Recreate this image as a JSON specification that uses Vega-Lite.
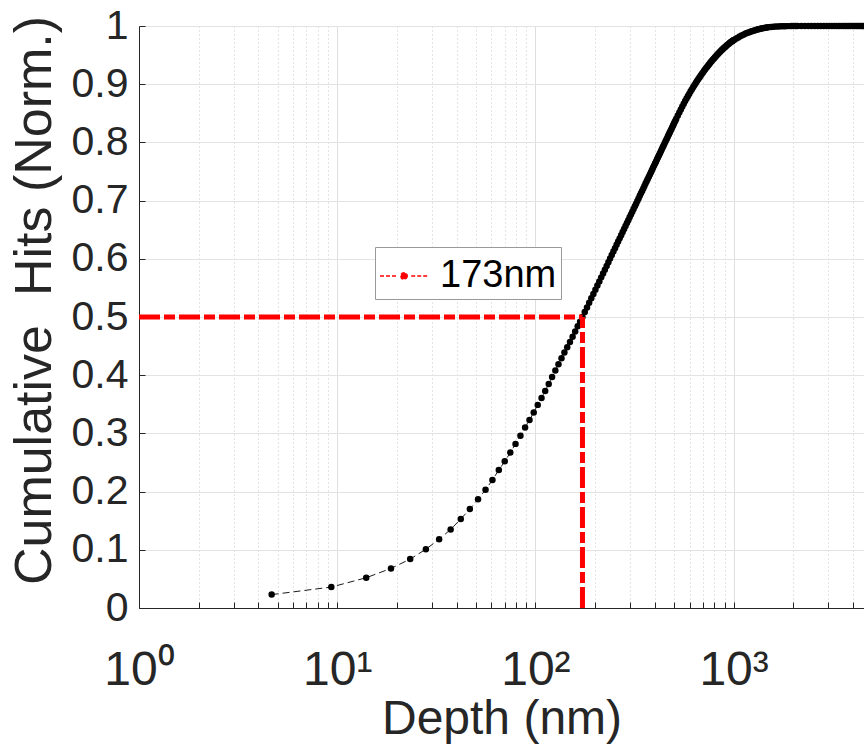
{
  "$schema": "https://vega.github.io/schema/vega-lite/v6.json",
  "width": 725,
  "height": 582,
  "autosize": {"type": "none"},
  "padding": {"left": 139, "top": 26, "right": 0, "bottom": 144},
  "background": "white",
  "config": {
    "view": {"stroke": null},
    "font": "Liberation Sans",
    "axis": {"labelFont": "Liberation Sans", "titleFont": "Liberation Sans", "labelColor": "#262626", "titleColor": "#262626", "titleFontWeight": "normal", "domainColor": "#262626", "tickColor": "#262626"}
  },
  "datasets": {
    "cdf": [
      {"d":4.67,"c":0.023},{"d":9.34,"c":0.036},{"d":14.01,"c":0.052},{"d":18.68,"c":0.068},{"d":23.35,"c":0.084},{"d":28.02,"c":0.101},{"d":32.69,"c":0.118},{"d":37.36,"c":0.135},{"d":42.03,"c":0.153},{"d":46.7,"c":0.170},
      {"d":51.37,"c":0.187},{"d":56.04,"c":0.203},{"d":60.71,"c":0.220},{"d":65.38,"c":0.237},{"d":70.05,"c":0.252},{"d":74.72,"c":0.267},{"d":79.39,"c":0.282},{"d":84.06,"c":0.296},{"d":88.73,"c":0.310},{"d":93.4,"c":0.323},
      {"d":98.07,"c":0.336},{"d":102.74,"c":0.349},{"d":107.41,"c":0.361},{"d":112.08,"c":0.373},{"d":116.75,"c":0.385},{"d":121.42,"c":0.397},{"d":126.09,"c":0.408},{"d":130.76,"c":0.419},{"d":135.43,"c":0.429},{"d":140.1,"c":0.439},
      {"d":144.77,"c":0.448},{"d":149.44,"c":0.457},{"d":154.11,"c":0.466},{"d":158.78,"c":0.475},{"d":163.45,"c":0.484},{"d":168.12,"c":0.492},{"d":172.79,"c":0.500},
      {"d":177.46,"c":0.5084},{"d":182.13,"c":0.5165},{"d":186.8,"c":0.5244},{"d":191.47,"c":0.5321},{"d":196.14,"c":0.5396},{"d":200.81,"c":0.5470},{"d":205.48,"c":0.5542},{"d":210.15,"c":0.5612},{"d":214.82,"c":0.5681},{"d":219.49,"c":0.5748},
      {"d":224.16,"c":0.5814},{"d":228.83,"c":0.5878},{"d":233.5,"c":0.5942},{"d":238.17,"c":0.6004},{"d":242.84,"c":0.6064},{"d":247.51,"c":0.6124},{"d":252.18,"c":0.6182},{"d":256.85,"c":0.6240},{"d":261.52,"c":0.6296},{"d":266.19,"c":0.6351},
      {"d":270.86,"c":0.6405},{"d":275.53,"c":0.6459},{"d":280.2,"c":0.6512},{"d":284.87,"c":0.6563},{"d":289.54,"c":0.6614},{"d":294.21,"c":0.6664},{"d":298.88,"c":0.6714},{"d":303.55,"c":0.6762},{"d":308.22,"c":0.6809},{"d":312.89,"c":0.6857},
      {"d":317.56,"c":0.6903},{"d":322.23,"c":0.6948},{"d":326.9,"c":0.6994},{"d":331.57,"c":0.7038},{"d":336.24,"c":0.7082},{"d":340.91,"c":0.7125},{"d":345.58,"c":0.7167},{"d":350.25,"c":0.7210},{"d":354.92,"c":0.7251},{"d":359.59,"c":0.7292},
      {"d":364.26,"c":0.7332},{"d":368.93,"c":0.7372},{"d":373.6,"c":0.7411},{"d":378.27,"c":0.7450},{"d":382.94,"c":0.7488},{"d":387.61,"c":0.7526},{"d":392.28,"c":0.7564},{"d":396.95,"c":0.7601},{"d":401.62,"c":0.7637},{"d":406.29,"c":0.7673},
      {"d":410.96,"c":0.7709},{"d":415.63,"c":0.7745},{"d":420.3,"c":0.7779},{"d":424.97,"c":0.7814},{"d":429.64,"c":0.7848},{"d":434.31,"c":0.7882},{"d":438.98,"c":0.7915},{"d":443.65,"c":0.7948},{"d":448.32,"c":0.7982},{"d":452.99,"c":0.8014},
      {"d":457.66,"c":0.8046},{"d":462.33,"c":0.8077},{"d":467.0,"c":0.8109},{"d":471.67,"c":0.8140},{"d":476.34,"c":0.8171},{"d":481.01,"c":0.8201},{"d":485.68,"c":0.8231},{"d":490.35,"c":0.8262},{"d":495.02,"c":0.8291},{"d":499.69,"c":0.8321},
      {"d":504.36,"c":0.8349},{"d":509.03,"c":0.8378},{"d":513.7,"c":0.8407},
      {"d":523.04,"c":0.8462},{"d":532.38,"c":0.8515},{"d":541.72,"c":0.8567},{"d":551.06,"c":0.8617},{"d":560.4,"c":0.8665},{"d":569.74,"c":0.8710},{"d":579.08,"c":0.8755},{"d":588.42,"c":0.8797},{"d":597.76,"c":0.8838},{"d":607.1,"c":0.8877},
      {"d":616.44,"c":0.8914},{"d":625.78,"c":0.8951},{"d":635.12,"c":0.8986},{"d":644.46,"c":0.9021},{"d":653.8,"c":0.9054},{"d":663.14,"c":0.9086},{"d":672.48,"c":0.9117},{"d":681.82,"c":0.9147},{"d":691.16,"c":0.9176},{"d":700.5,"c":0.9203},
      {"d":709.84,"c":0.9230},{"d":719.18,"c":0.9256},{"d":728.52,"c":0.9282},{"d":737.86,"c":0.9306},{"d":747.2,"c":0.9330},{"d":756.54,"c":0.9353},{"d":765.88,"c":0.9376},{"d":775.22,"c":0.9398},{"d":784.56,"c":0.9419},{"d":793.9,"c":0.9439},
      {"d":803.24,"c":0.9459},{"d":812.58,"c":0.9478},{"d":821.92,"c":0.9497},{"d":831.26,"c":0.9515},{"d":840.6,"c":0.9532},{"d":849.94,"c":0.9549},{"d":859.28,"c":0.9566},{"d":868.62,"c":0.9582},{"d":877.96,"c":0.9597},{"d":887.3,"c":0.9612},
      {"d":896.64,"c":0.9627},{"d":905.98,"c":0.9641},{"d":915.32,"c":0.9654},{"d":924.66,"c":0.9668},{"d":934.0,"c":0.9680},{"d":943.34,"c":0.9692},{"d":952.68,"c":0.9704},{"d":962.02,"c":0.9715},{"d":971.36,"c":0.9726},{"d":980.7,"c":0.9737},
      {"d":990.04,"c":0.9747},{"d":999.38,"c":0.9756},
      {"d":1004.05,"c":0.9761},{"d":1027.4,"c":0.9781},{"d":1050.75,"c":0.9800},{"d":1074.1,"c":0.9819},{"d":1097.45,"c":0.9836},{"d":1120.8,"c":0.9851},{"d":1144.15,"c":0.9865},{"d":1167.5,"c":0.9878},{"d":1190.85,"c":0.9890},{"d":1214.2,"c":0.9901},
      {"d":1237.55,"c":0.9911},{"d":1260.9,"c":0.9920},{"d":1284.25,"c":0.9928},{"d":1307.6,"c":0.9936},{"d":1330.95,"c":0.9943},{"d":1354.3,"c":0.9950},{"d":1377.65,"c":0.9956},{"d":1401.0,"c":0.9962},{"d":1424.35,"c":0.9967},{"d":1447.7,"c":0.9971},
      {"d":1471.05,"c":0.9975},{"d":1494.4,"c":0.9978},
      {"d":1541.1,"c":0.9983},{"d":1587.8,"c":0.9988},{"d":1634.5,"c":0.9991},{"d":1681.2,"c":0.9993},{"d":1727.9,"c":0.9995},{"d":1774.6,"c":0.9996},{"d":1821.3,"c":0.9997},{"d":1868.0,"c":0.9998},{"d":1914.7,"c":0.9998},{"d":1961.4,"c":0.9999},
      {"d":2008.1,"c":0.9999},{"d":2054.8,"c":0.9999},{"d":2101.5,"c":1},
      {"d":2194.9,"c":1},{"d":2288.3,"c":1},{"d":2381.7,"c":1},{"d":2475.1,"c":1},{"d":2568.5,"c":1},{"d":2661.9,"c":1},{"d":2755.3,"c":1},{"d":2848.7,"c":1},{"d":2942.1,"c":1},{"d":3035.5,"c":1},
      {"d":3128.9,"c":1},{"d":3222.3,"c":1},{"d":3315.7,"c":1},{"d":3409.1,"c":1},{"d":3502.5,"c":1},{"d":3595.9,"c":1},{"d":3689.3,"c":1},{"d":3782.7,"c":1},{"d":3876.1,"c":1},{"d":3969.5,"c":1},
      {"d":4062.9,"c":1},{"d":4156.3,"c":1},{"d":4249.7,"c":1},{"d":4343.1,"c":1},{"d":4436.5,"c":1},{"d":4529.9,"c":1}
    ],
    "median": [
      {"x": 1, "x2": 172.8, "y": 0.5, "y2": 0.5, "label": "173nm"},
      {"x": 172.8, "x2": 172.8, "y": 0, "y2": 0.5, "label": "173nm"}
    ]
  },
  "encoding": {
    "x": {
      "field": "d", "type": "quantitative",
      "scale": {"type": "log", "domain": [1, 4550], "nice": false},
      "axis": {
        "title": "Depth (nm)", "titleFontSize": 48, "titlePadding": 1,
        "values": [1,2,3,4,5,6,7,8,9,10,20,30,40,50,60,70,80,90,100,200,300,400,500,600,700,800,900,1000,2000,3000,4000],
        "labelExpr": "datum.value == 1 ? '10⁰' : datum.value == 10 ? '10¹' : datum.value == 100 ? '10²' : datum.value == 1000 ? '10³' : ''",
        "labelFontSize": 48, "labelPadding": 44, "labelFlush": false, "labelOverlap": false,
        "tickSize": -6, "tickWidth": 1, "domainWidth": 1,
        "grid": true,
        "gridColor": {"condition": {"test": "datum.value == 1 || datum.value == 10 || datum.value == 100 || datum.value == 1000", "value": "#dedede"}, "value": "#c8c8c8"},
        "gridDash": {"condition": {"test": "datum.value == 1 || datum.value == 10 || datum.value == 100 || datum.value == 1000", "value": []}, "value": [1, 3]},
        "gridWidth": 1
      }
    },
    "y": {
      "field": "c", "type": "quantitative",
      "scale": {"domain": [0, 1], "nice": false},
      "axis": {
        "title": "Cumulative\u00a0 Hits (Norm.)", "titleFontSize": 52, "titlePadding": 10, "titleY": 274,
        "values": [0,0.1,0.2,0.3,0.4,0.5,0.6,0.7,0.8,0.9,1],
        "format": "~g", "labelFontSize": 41, "labelPadding": 17,
        "tickSize": -6, "tickWidth": 1, "domainWidth": 1,
        "grid": true, "gridColor": "#e3e3e3", "gridWidth": 1
      }
    }
  },
  "layer": [
    {
      "data": {"name": "cdf"},
      "mark": {"type": "line", "color": "#1a1a1a", "strokeWidth": 1, "strokeDash": [7, 4]}
    },
    {
      "data": {"name": "cdf"},
      "mark": {"type": "point", "shape": "circle", "filled": true, "color": "black", "opacity": 1, "size": 42}
    },
    {
      "data": {"name": "median"},
      "mark": {"type": "rule", "strokeWidth": 5, "strokeDash": [21, 4, 11, 4], "strokeCap": "butt"},
      "encoding": {
        "x": {"field": "x", "type": "quantitative"},
        "x2": {"field": "x2"},
        "y": {"field": "y", "type": "quantitative"},
        "y2": {"field": "y2"},
        "color": {
          "field": "label", "type": "nominal",
          "scale": {"domain": ["173nm"], "range": ["#ff0000"]},
          "legend": {
            "orient": "none", "legendX": 236, "legendY": 221, "title": null,
            "symbolType": "M-1,0H-0.3M0.3,0H1M0.14,0A0.14,0.14,0,1,1,-0.14,0A0.14,0.14,0,1,1,0.14,0Z",
            "symbolSize": 2304, "symbolStrokeWidth": 1.3, "symbolDash": [4, 2], "symbolOpacity": 1,
            "symbolFillColor": "#ff0000", "symbolStrokeColor": "#ff0000",
            "labelFontSize": 38, "labelColor": "#000000", "labelFont": "Liberation Sans",
            "padding": 4, "strokeColor": "#999999", "fillColor": "white", "labelOffset": 11
          }
        }
      }
    }
  ]
}
